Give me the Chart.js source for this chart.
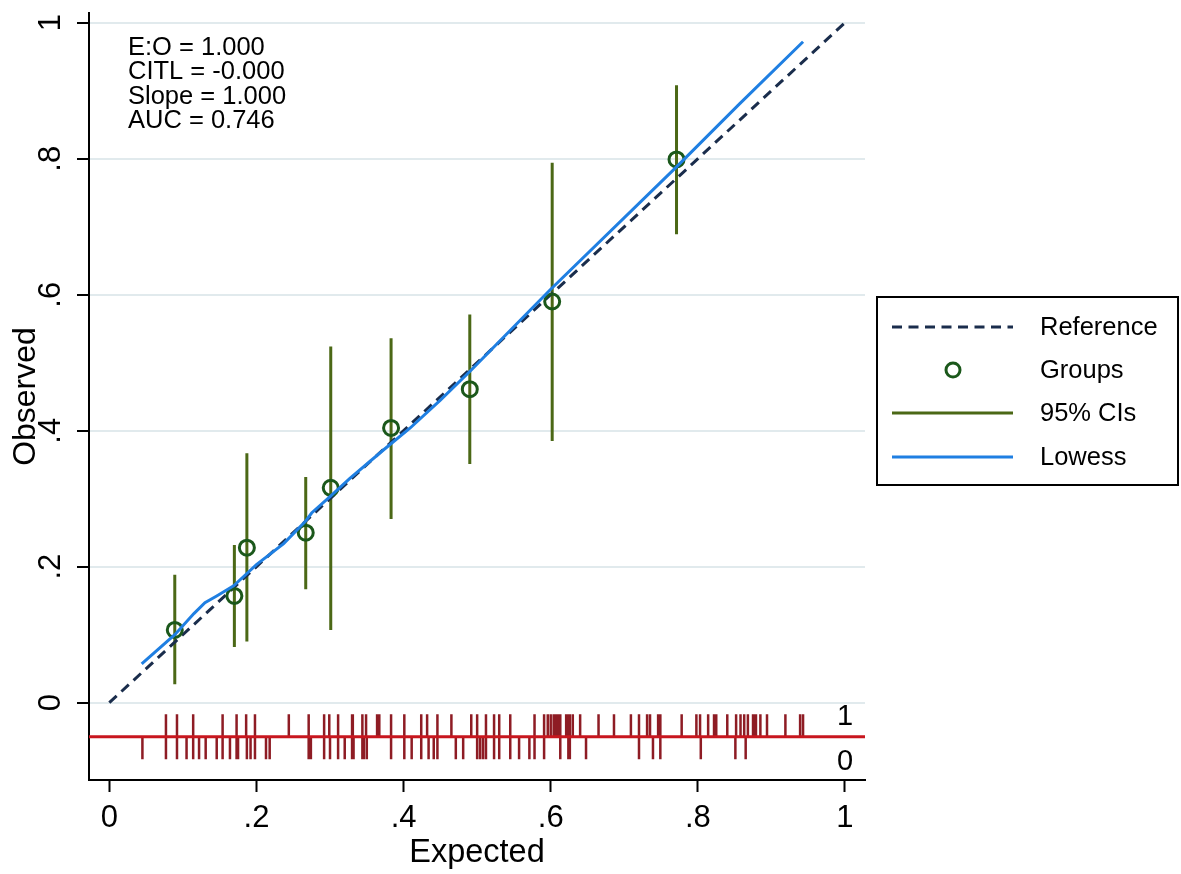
<!DOCTYPE html>
<html>
<head>
<meta charset="utf-8">
<title>Calibration plot</title>
<script src="https://cdn.jsdelivr.net/npm/chart.js@4.4.1/dist/chart.umd.min.js"></script>
<style>
  html, body { margin: 0; padding: 0; background: #fff; }
  canvas { display: block; }
</style>
</head>
<body>
<canvas id="myChart" width="1181" height="874"></canvas>
<script>
// axis ticks
let xTicks = [0, 0.2, 0.4, 0.6, 0.8, 1];
let xTickLabels = ["0", ".2", ".4", ".6", ".8", "1"];
let yTicks = [0, 0.2, 0.4, 0.6, 0.8, 1];
let yTickLabels = ["0", ".2", ".4", ".6", ".8", "1"];
let xMin = -0.0276, xMax = 1.0272;
let yMin = -0.1137, yMax = 1.0143;

// reference (perfect calibration)
let refX = [0, 1];
let refY = [0, 1];

// groups: expected vs observed with 95% CI
let groupExp = [0.089, 0.170, 0.187, 0.267, 0.301, 0.383, 0.490, 0.602, 0.771];
let groupObs = [0.107, 0.157, 0.228, 0.250, 0.316, 0.404, 0.461, 0.590, 0.799];
let ciLow    = [0.027, 0.082, 0.090, 0.167, 0.107, 0.270, 0.351, 0.385, 0.689];
let ciHigh   = [0.188, 0.232, 0.367, 0.332, 0.524, 0.536, 0.571, 0.794, 0.908];

// lowess smoother
let lowessX = [0.044, 0.089, 0.115, 0.130, 0.146, 0.169, 0.187, 0.200, 0.237, 0.266, 0.275,
               0.300, 0.327, 0.373, 0.409, 0.450, 0.490, 0.599, 0.771, 0.857, 0.943];
let lowessY = [0.057, 0.100, 0.131, 0.147, 0.157, 0.172, 0.190, 0.203, 0.234, 0.266, 0.279,
               0.303, 0.330, 0.372, 0.404, 0.445, 0.487, 0.607, 0.788, 0.881, 0.972];

// rug: expected risk by observed outcome
let rugOnes = [0.077, 0.092, 0.114, 0.154, 0.173, 0.186, 0.198, 0.244, 0.271, 0.292,
               0.299, 0.311, 0.330, 0.331, 0.344, 0.349, 0.364, 0.367, 0.383, 0.401,
               0.424, 0.432, 0.446, 0.465, 0.492, 0.500, 0.512, 0.523, 0.530, 0.545,
               0.578, 0.591, 0.596, 0.600, 0.604, 0.607, 0.610, 0.613, 0.621, 0.624,
               0.626, 0.630, 0.640, 0.665, 0.686, 0.709, 0.720, 0.731, 0.735, 0.746,
               0.749, 0.778, 0.798, 0.803, 0.814, 0.822, 0.825, 0.840, 0.852, 0.858,
               0.863, 0.868, 0.875, 0.877, 0.879, 0.885, 0.894, 0.919, 0.939, 0.943];
let rugZeros = [0.045, 0.077, 0.092, 0.105, 0.114, 0.122, 0.131, 0.146, 0.154, 0.164,
                0.173, 0.175, 0.187, 0.192, 0.198, 0.213, 0.218, 0.271, 0.274, 0.292,
                0.300, 0.311, 0.320, 0.330, 0.332, 0.344, 0.346, 0.350, 0.383, 0.401,
                0.411, 0.424, 0.434, 0.441, 0.446, 0.471, 0.481, 0.500, 0.504, 0.508,
                0.512, 0.523, 0.530, 0.545, 0.557, 0.571, 0.578, 0.591, 0.613, 0.624,
                0.626, 0.648, 0.720, 0.739, 0.749, 0.804, 0.851, 0.865];
let rugLevel = -0.05;
let rugLen = 0.033;

let stats = ["E:O = 1.000", "CITL = -0.000", "Slope = 1.000", "AUC = 0.746"];
let legendLabels = ["Reference", "Groups", "95% CIs", "Lowess"];

// colours
let refColor = "#1a2d4c";
let groupColor = "#1b581b";
let ciColor = "#4b6816";
let lowessColor = "#1f7fe2";
let rugLineColor = "#c8161e";
let rugTickColor = "#8e1c24";
let gridColor = "#e1eaed";
let fontFamily = "'Liberation Sans', Arial, sans-serif";

Chart.defaults.font.family = fontFamily;
Chart.defaults.color = "#000";

let ctx = document.getElementById('myChart').getContext('2d');

let toPoints = (xs, ys) => xs.map((x, i) => ({x: x, y: ys[i]}));

// vertical segments separated by gaps
let ciData = [];
groupExp.forEach((x, i) => {
  ciData.push({x: x, y: ciLow[i]}, {x: x, y: ciHigh[i]}, {x: x, y: null});
});

let rugData = [];
rugOnes.forEach((x) => {
  rugData.push({x: x, y: rugLevel}, {x: x, y: rugLevel + rugLen}, {x: x, y: null});
});
rugZeros.forEach((x) => {
  rugData.push({x: x, y: rugLevel}, {x: x, y: rugLevel - rugLen}, {x: x, y: null});
});

let lineSet = (data, color, width, order, dash) => ({
  data: data,
  showLine: true,
  borderColor: color,
  borderWidth: width,
  borderDash: dash || [],
  pointRadius: 0,
  pointHoverRadius: 0,
  spanGaps: false,
  tension: 0,
  fill: false,
  order: order
});

// extra drawing: rotated y labels, stats text, rug labels, legend box
let extras = {
  id: 'extras',
  afterDraw(chart) {
    let c = chart.ctx;
    let xs = chart.scales.x;
    let ys = chart.scales.y;
    let area = chart.chartArea;
    c.save();
    c.fillStyle = "#000";

    // y tick labels, rotated like Stata
    c.font = "31px " + fontFamily;
    c.textAlign = "center";
    c.textBaseline = "middle";
    yTicks.forEach((v, i) => {
      c.save();
      c.translate(51, ys.getPixelForValue(v));
      c.rotate(-Math.PI / 2);
      c.fillText(yTickLabels[i], 0, 0);
      c.restore();
    });

    // rug labels
    c.font = "29px " + fontFamily;
    c.fillText("1", xs.getPixelForValue(1), ys.getPixelForValue(rugLevel + 0.0294));
    c.fillText("0", xs.getPixelForValue(1), ys.getPixelForValue(rugLevel - 0.0368));

    // statistics
    c.font = "25.5px " + fontFamily;
    c.textAlign = "left";
    c.textBaseline = "alphabetic";
    stats.forEach((s, i) => {
      c.fillText(s, area.left + 39, area.top + 41.5 + i * 24.5);
    });

    // legend
    let lx = 877, ly = 297, lw = 301, lh = 188;
    c.lineWidth = 2;
    c.strokeStyle = "#000";
    c.strokeRect(lx, ly, lw, lh);
    let rows = [327, 370, 413, 457];
    let sx1 = 892, sx2 = 1013;

    c.lineWidth = 3;
    c.strokeStyle = refColor;
    c.setLineDash([10, 6.5]);
    c.beginPath(); c.moveTo(sx1, rows[0]); c.lineTo(sx2, rows[0]); c.stroke();
    c.setLineDash([]);

    c.strokeStyle = groupColor;
    c.beginPath(); c.arc((sx1 + sx2) / 2 + 0.5, rows[1], 7, 0, Math.PI * 2); c.stroke();

    c.strokeStyle = ciColor;
    c.beginPath(); c.moveTo(sx1, rows[2]); c.lineTo(sx2, rows[2]); c.stroke();

    c.strokeStyle = lowessColor;
    c.beginPath(); c.moveTo(sx1, rows[3]); c.lineTo(sx2, rows[3]); c.stroke();

    c.font = "25.5px " + fontFamily;
    c.textBaseline = "middle";
    legendLabels.forEach((t, i) => c.fillText(t, 1040, rows[i] + 1));
    c.restore();
  }
};

let chart = new Chart(ctx, {
  type: 'scatter',
  data: {
    datasets: [
      lineSet(toPoints(lowessX, lowessY), lowessColor, 3, 0),
      {
        data: toPoints(groupExp, groupObs),
        showLine: false,
        pointRadius: 7.5,
        pointHoverRadius: 7.5,
        pointBorderWidth: 3,
        pointBorderColor: groupColor,
        pointBackgroundColor: 'rgba(0,0,0,0)',
        order: 1
      },
      lineSet(toPoints(refX, refY), refColor, 3, 2, [10, 6.5]),
      lineSet(ciData, ciColor, 3, 3),
      lineSet(rugData, rugTickColor, 2.5, 4),
      lineSet([{x: xMin, y: rugLevel}, {x: xMax, y: rugLevel}], rugLineColor, 3, 3.5)
    ]
  },
  options: {
    responsive: false,
    animation: false,
    devicePixelRatio: 1,
    layout: { padding: { left: 0, top: 13, right: 316, bottom: 0 } },
    plugins: {
      legend: { display: false },
      tooltip: { enabled: false }
    },
    scales: {
      x: {
        type: 'linear',
        min: xMin,
        max: xMax,
        afterBuildTicks: (scale) => { scale.ticks = xTicks.map(v => ({value: v})); },
        afterFit: (scale) => { scale.height = 94; },
        ticks: {
          autoSkip: false,
          maxRotation: 0,
          padding: 8,
          font: { size: 31 },
          color: '#000',
          callback: (value, index) => xTickLabels[index]
        },
        grid: {
          drawOnChartArea: false,
          drawTicks: true,
          tickLength: 12,
          tickColor: '#000',
          tickWidth: 2
        },
        border: { display: true, color: '#000', width: 2 },
        title: {
          display: true,
          text: 'Expected',
          font: { size: 32.5 },
          color: '#000',
          padding: { top: 0, bottom: 1 }
        }
      },
      y: {
        type: 'linear',
        min: yMin,
        max: yMax,
        afterBuildTicks: (scale) => { scale.ticks = yTicks.map(v => ({value: v})); },
        afterFit: (scale) => { scale.width = 89; },
        ticks: { display: false },
        grid: {
          color: gridColor,
          lineWidth: 2,
          drawTicks: true,
          tickLength: 12,
          tickColor: '#000',
          tickWidth: 2
        },
        border: { display: true, color: '#000', width: 2 },
        title: {
          display: true,
          text: 'Observed',
          font: { size: 32 },
          color: '#000',
          padding: { top: 7, bottom: 0 }
        }
      }
    }
  },
  plugins: [extras]
});
</script>
</body>
</html>
